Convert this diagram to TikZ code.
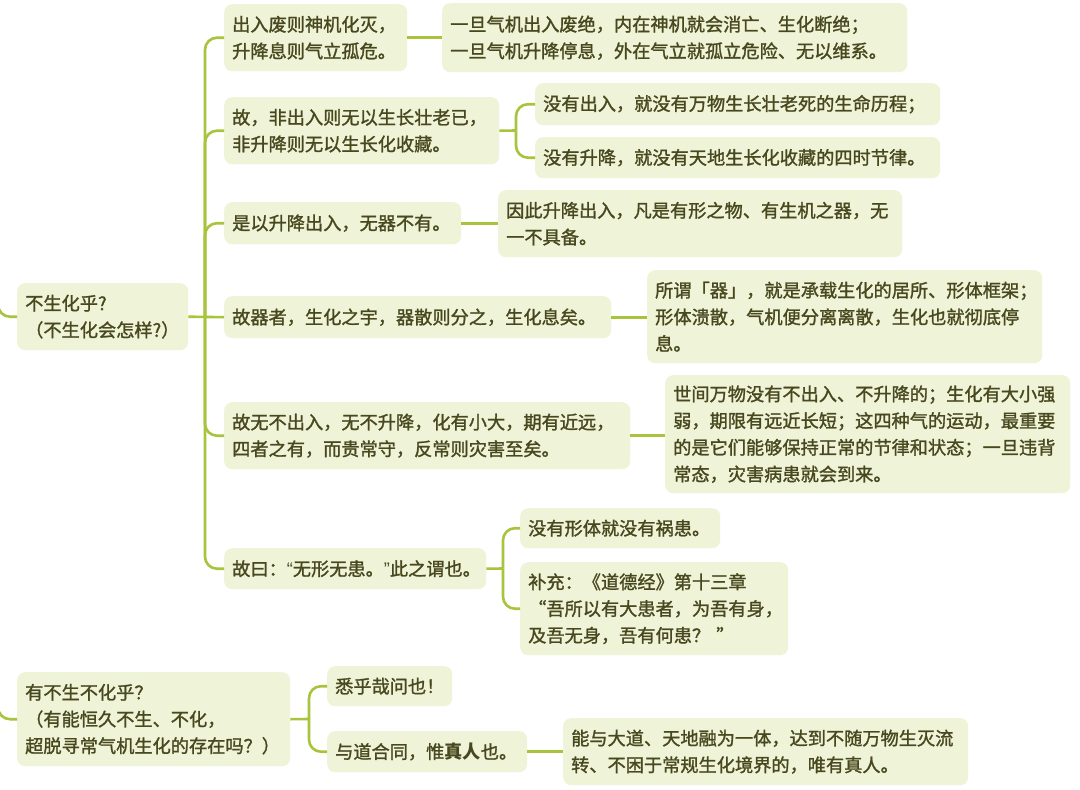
\documentclass[tikz,border=0pt]{standalone}
\usepackage{fontspec}
\setmainfont{Noto Sans CJK SC}[UprightFeatures={FakeBold=1.4}]
\newfontfamily\latinq{Liberation Sans}
\definecolor{boxfill}{HTML}{EFF3D7}
\definecolor{linec}{HTML}{A8C33C}
\definecolor{txt}{HTML}{48481F}
\tikzset{
  box/.style={fill=boxfill, rounded corners=8pt, inner xsep=8pt, inner ysep=0pt,
    anchor=north west, align=left, text=txt,
    font=\fontsize{18.2}{26.7}\selectfont},
  conn/.style={draw=linec, line width=2.6pt, rounded corners=12pt}
}
\begin{document}
\begin{tikzpicture}[x=1pt, y=-1pt]
\fill[white] (0,0) rectangle (1080,790);
\useasboundingbox (0,0) rectangle (1080,790);

% root A branch
\node[box, text width=155pt, minimum height=67pt] (rootA) at (17,283) {不生化乎?\\（不生化会怎样?）};
\node[box, text width=167pt, minimum height=67pt] (c1) at (224,4) {出入废则神机化灭，\\升降息则气立孤危。};
\node[box, text width=259pt, minimum height=67pt] (c2) at (224,97) {故，非出入则无以生长壮老已，\\非升降则无以生长化收藏。};
\node[box, text width=221pt, minimum height=42pt] (c3) at (224,202) {是以升降出入，无器不有。};
\node[box, text width=371pt, minimum height=42pt] (c4) at (224,296) {故器者，生化之宇，器散则分之，生化息矣。};
\node[box, text width=390pt, minimum height=67pt] (c5) at (224,402) {故无不出入，无不升降，化有小大，期有近远，\\四者之有，而贵常守，反常则灾害至矣。};
\node[box, text width=246pt, minimum height=41pt] (c6) at (224,548) {故曰：{\latinq “}无形无患。{\latinq ”}此之谓也。};

\node[box, text width=449pt, minimum height=69pt] (d1) at (442,3) {一旦气机出入废绝，内在神机就会消亡、生化断绝；\\一旦气机升降停息，外在气立就孤立危险、无以维系。};
\node[box, text width=389pt, minimum height=42pt] (d2a) at (535,83) {没有出入，就没有万物生长壮老死的生命历程；};
\node[box, text width=389pt, minimum height=41pt] (d2b) at (535,137) {没有升降，就没有天地生长化收藏的四时节律。};
\node[box, text width=388pt, minimum height=67pt] (d3) at (498,190) {因此升降出入，凡是有形之物、有生机之器，无\\一不具备。};
\node[box, text width=379pt, minimum height=93pt] (d4) at (647,270) {所谓「器」，就是承载生化的居所、形体框架；\\形体溃散，气机便分离离散，生化也就彻底停\\息。};
\node[box, text width=389pt, minimum height=118pt] (d5) at (665,375) {世间万物没有不出入、不升降的；生化有大小强\\弱，期限有远近长短；这四种气的运动，最重要\\的是它们能够保持正常的节律和状态；一旦违背\\常态，灾害病患就会到来。};
\node[box, text width=184pt, minimum height=40pt] (d6a) at (520,508) {没有形体就没有祸患。};
\node[box, text width=252pt, minimum height=93pt] (d6b) at (520,562) {补充：《道德经》第十三章\\ “吾所以有大患者，为吾有身，\\及吾无身，吾有何患？ ”};

% root B branch
\node[box, text width=257pt, minimum height=94pt] (rootB) at (17,672) {有不生不化乎？\\（有能恒久不生、不化，\\超脱寻常气机生化的存在吗？）};
\node[box, text width=109pt, minimum height=40pt] (e1) at (327,666) {悉乎哉问也！};
\node[box, text width=184pt, minimum height=41pt] (e2) at (327,731) {与道合同，惟\textbf{真人}也。};
\node[box, text width=389pt, minimum height=67pt] (f) at (563,718) {能与大道、天地融为一体，达到不随万物生灭流\\转、不困于常规生化境界的，唯有真人。};

% junctions and free ends
\coordinate (pA) at (-2,296);
\coordinate (pB) at (-2,698);
\coordinate (jA) at (205,316.5);
\coordinate (j2) at (516,130.5);
\coordinate (j6) at (503,568.5);
\coordinate (jB) at (309,719);

% connectors
\draw[conn] (pA) |- (rootA.west);
\draw[conn] (pB) |- (rootB.west);
\draw[conn] (rootA.east) -- (c4.west);
\draw[conn] (jA) |- (c1.west);
\draw[conn] (jA) |- (c2.west);
\draw[conn] (jA) |- (c3.west);
\draw[conn] (jA) |- (c5.west);
\draw[conn] (jA) |- (c6.west);

\draw[conn] (c1.east) -- (d1.west);
\draw[conn] (c2.east) -- (j2);
\draw[conn] (j2) |- (d2a.west);
\draw[conn] (j2) |- (d2b.west);
\draw[conn] (c3.east) -- (c3.east -| d3.west);
\draw[conn] (c4.east) -- (c4.east -| d4.west);
\draw[conn] (c5.east) -- (c5.east -| d5.west);
\draw[conn] (c6.east) -- (j6);
\draw[conn] (j6) |- (d6a.west);
\draw[conn] (j6) |- (d6b.west);

\draw[conn] (rootB.east) -- (jB);
\draw[conn] (jB) |- (e1.west);
\draw[conn] (jB) |- (e2.west);
\draw[conn] (e2.east) -- (e2.east -| f.west);
\end{tikzpicture}
\end{document}
